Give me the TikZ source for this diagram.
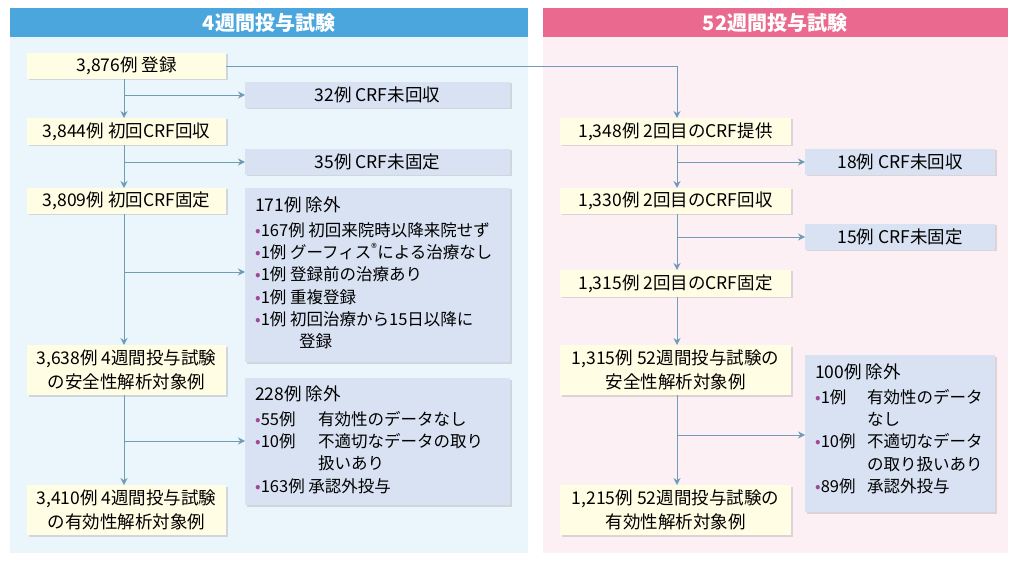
\documentclass[tikz,border=0pt]{standalone}
\usepackage{fontspec}
\setmainfont{Noto Sans CJK JP}
\usetikzlibrary{shadows,arrows.meta}
\definecolor{hb}{HTML}{4BA6DE}\definecolor{bb}{HTML}{EAF5FC}
\definecolor{hp}{HTML}{E96A8E}\definecolor{bp}{HTML}{FDF0F5}
\definecolor{yb}{HTML}{FFFDE3}\definecolor{gb}{HTML}{D8E2F2}
\definecolor{ln}{HTML}{6F9DB8}\definecolor{pu}{HTML}{A0479A}
\newcommand{\bu}{{\color{pu}•}}
\begin{document}
\begin{tikzpicture}[x=1pt,y=-1pt,
 ybox/.style={fill=yb,drop shadow={shadow xshift=1.5pt,shadow yshift=-1.5pt,opacity=0.25}},
 gbox/.style={fill=gb,drop shadow={shadow xshift=1.5pt,shadow yshift=-1.5pt,opacity=0.25}},
 tx/.style={font=\fontsize{17.5}{24}\selectfont,align=center,inner sep=0},
 lst/.style={anchor=north west,align=left,inner sep=0,font=\fontsize{16.5}{22.3}\selectfont},
 hd/.style={text=white,font=\bfseries\fontsize{20}{24}\selectfont},
 ar/.style={draw=ln,line width=0.9pt,-{Stealth[length=7pt,width=7pt]}}]
\useasboundingbox (0,0) rectangle (1018,564);
\fill[white] (0,0) rectangle (1018,564);
\fill[bb] (10,37) rectangle (528,553);
\fill[hb] (10,8) rectangle (528,37);
\node[hd] (h1) at (269,22.5) {4週間投与試験};
\fill[bp] (543,37) rectangle (1008,553);
\fill[hp] (543,8) rectangle (1008,37);
\node[hd] (h2) at (775,22.5) {52週間投与試験};
% left yellow
\path[ybox] (27,53) rectangle (226,79); \node[tx] (a) at (126.5,66) {3,876例 登録};
\path[ybox] (27,118) rectangle (226,145); \node[tx] (b) at (126.5,131.5) {3,844例 初回CRF回収};
\path[ybox] (27,188) rectangle (226,214); \node[tx] (c) at (126.5,201) {3,809例 初回CRF固定};
\path[ybox] (27,345) rectangle (226,395); \node[tx] (d) at (126.5,370) {3,638例 4週間投与試験\\の安全性解析対象例};
\path[ybox] (27,485) rectangle (226,535); \node[tx] (e) at (126.5,510) {3,410例 4週間投与試験\\の有効性解析対象例};
% left grey
\path[gbox] (245,82) rectangle (510,108); \node[tx] (g1) at (377.5,95) {32例 CRF未回収};
\path[gbox] (245,149) rectangle (510,175); \node[tx] (g2) at (377.5,162) {35例 CRF未固定};
\path[gbox] (245,188) rectangle (510,362);
\node[lst] (g3) at (255,197) {{\fontsize{17.5}{22.3}\selectfont 171例 除外}\\[2pt]
\bu167例 初回来院時以降来院せず\\
\bu1例 グーフィス\textsuperscript{®}による治療なし\\
\bu1例 登録前の治療あり\\
\bu1例 重複登録\\
\bu1例 初回治療から15日以降に\\
\hspace*{44pt}登録};
\path[gbox] (245,378) rectangle (510,505);
\node[lst] (g4) at (255,386) {{\fontsize{17.5}{22.3}\selectfont 228例 除外}\\[2pt]
\makebox[63pt][l]{\bu55例}有効性のデータなし\\
\makebox[63pt][l]{\bu10例}不適切なデータの取り\\
\hspace*{63pt}扱いあり\\
\bu163例 承認外投与};
% right yellow
\path[ybox] (560,118) rectangle (791,145); \node[tx] (r1) at (675.5,131.5) {1,348例 2回目のCRF提供};
\path[ybox] (560,188) rectangle (791,214); \node[tx] (r2) at (675.5,201) {1,330例 2回目のCRF回収};
\path[ybox] (560,270) rectangle (791,297); \node[tx] (r3) at (675.5,283.5) {1,315例 2回目のCRF固定};
\path[ybox] (560,345) rectangle (791,395); \node[tx] (r4) at (675.5,370) {1,315例 52週間投与試験の\\安全性解析対象例};
\path[ybox] (560,485) rectangle (791,535); \node[tx] (r5) at (675.5,510) {1,215例 52週間投与試験の\\有効性解析対象例};
% right grey
\path[gbox] (805,149) rectangle (995,175); \node[tx] (rg1) at (900,162) {18例 CRF未回収};
\path[gbox] (805,224) rectangle (995,250); \node[tx] (rg2) at (900,237) {15例 CRF未固定};
\path[gbox] (805,355) rectangle (995,512);
\node[lst] (rg3) at (815,364) {{\fontsize{17.5}{22.3}\selectfont 100例 除外}\\[2pt]
\makebox[52pt][l]{\bu1例}有効性のデータ\\
\hspace*{52pt}なし\\
\makebox[52pt][l]{\bu10例}不適切なデータ\\
\hspace*{52pt}の取り扱いあり\\
\makebox[52pt][l]{\bu89例}承認外投与};
% connectors
\coordinate (la) at (124,79); \coordinate (lb1) at (124,118); \coordinate (lb2) at (124,145);
\coordinate (lc1) at (124,188); \coordinate (lc2) at (124,214); \coordinate (ld1) at (124,345);
\coordinate (ld2) at (124,395); \coordinate (le1) at (124,485);
\draw[ar] (la) -- (lb1); \draw[ar] (lb2) -- (lc1); \draw[ar] (lc2) -- (ld1); \draw[ar] (ld2) -- (le1);
\coordinate (j1) at (124,95); \coordinate (j2) at (124,162); \coordinate (j3) at (124,272); \coordinate (j4) at (124,441);
\draw[ar] (j1) -- (245,95); \draw[ar] (j2) -- (245,162); \draw[ar] (j3) -- (245,272); \draw[ar] (j4) -- (245,441);
\coordinate (ae) at (226,66); \coordinate (rt) at (677,118);
\draw[ar] (ae) -| (rt);
\coordinate (ra) at (677,145); \coordinate (rb) at (677,188); \coordinate (rc) at (677,214); \coordinate (rd) at (677,270);
\coordinate (re) at (677,297); \coordinate (rf) at (677,345); \coordinate (rg) at (677,395); \coordinate (rh) at (677,485);
\draw[ar] (ra) -- (rb); \draw[ar] (rc) -- (rd); \draw[ar] (re) -- (rf); \draw[ar] (rg) -- (rh);
\coordinate (k1) at (677,162); \coordinate (k2) at (677,237); \coordinate (k3) at (677,435);
\draw[ar] (k1) -- (805,162); \draw[ar] (k2) -- (805,237); \draw[ar] (k3) -- (805,435);
\end{tikzpicture}
\end{document}
